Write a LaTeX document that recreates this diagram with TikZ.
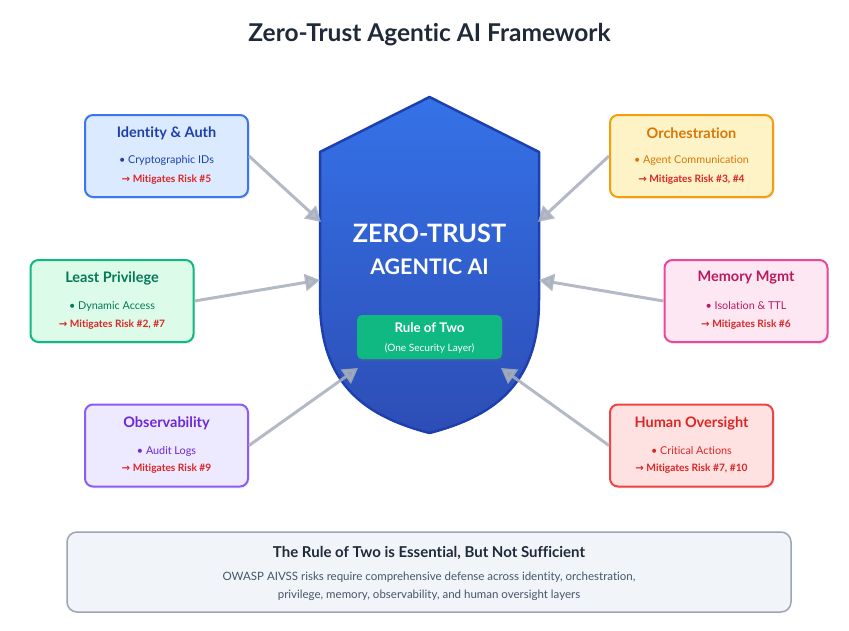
\documentclass[tikz,border=0pt]{standalone}
\usepackage{fontspec}
\setmainfont{Lato}[Ligatures=NoCommon]
\newfontfamily\arrowfont{DejaVu Sans}
\usetikzlibrary{arrows.meta,shadows}

\definecolor{inkdark}{HTML}{1F2937}
\definecolor{riskred}{HTML}{DC2626}
\definecolor{linkgray}{HTML}{A7AFBC}
\definecolor{shieldtop}{HTML}{3572E8}
\definecolor{shieldbot}{HTML}{2D4DB5}
\definecolor{shieldrim}{HTML}{1E40AF}
\definecolor{ruleteal}{HTML}{10B981}
\definecolor{idfill}{HTML}{DBEAFE}
\definecolor{iddraw}{HTML}{3B76EE}
\definecolor{idtext}{HTML}{1E40AF}
\definecolor{privfill}{HTML}{DCFCE9}
\definecolor{privdraw}{HTML}{10B981}
\definecolor{privtext}{HTML}{047857}
\definecolor{obsfill}{HTML}{EDE9FE}
\definecolor{obsdraw}{HTML}{8B5CF6}
\definecolor{obstext}{HTML}{6D28D9}
\definecolor{orchfill}{HTML}{FEF3C7}
\definecolor{orchdraw}{HTML}{F59E0B}
\definecolor{orchtext}{HTML}{D97706}
\definecolor{memfill}{HTML}{FCE7F3}
\definecolor{memdraw}{HTML}{EC4899}
\definecolor{memtext}{HTML}{BE185D}
\definecolor{humfill}{HTML}{FEE2E2}
\definecolor{humdraw}{HTML}{EF4444}
\definecolor{humtext}{HTML}{DC2626}
\definecolor{notefill}{HTML}{F1F5F9}
\definecolor{notedraw}{HTML}{9AA5B5}
\definecolor{notetext}{HTML}{475569}

\begin{document}
\begin{tikzpicture}[
  x=1pt, y=-1pt,
  every node/.style={inner sep=0pt},
  card/.style={draw, line width=2pt, rounded corners=8pt,
    minimum width=163pt, minimum height=82pt,
    drop shadow={opacity=0.12, shadow xshift=1.5pt, shadow yshift=-2pt}},
  ttl/.style={font=\bfseries\fontsize{14.5}{17}\selectfont},
  itm/.style={font=\fontsize{10.8}{13}\selectfont},
  risk/.style={font=\bfseries\fontsize{10.2}{12}\selectfont, text=riskred},
  link/.style={-{Triangle[length=15pt,width=17pt]}, line width=3pt,
    draw=linkgray, fill=linkgray, opacity=0.85}
]
  \useasboundingbox (0,0) rectangle (849,630);

  \node[font=\bfseries\fontsize{24.5}{28}\selectfont, text=inkdark] (head) at (429.5,35) {Zero-Trust Agentic AI Framework};

  \shade[top color=shieldtop, bottom color=shieldbot, draw=shieldrim, line width=2.5pt, line join=round]
    (429.5,97) -- (539,152) -- (539,300)
    .. controls (539,380) and (499,415) .. (429.5,433)
    .. controls (360,415) and (320,380) .. (320,300)
    -- (320,152) -- cycle;
  \node[font=\bfseries\fontsize{25.3}{29}\selectfont, text=white] (core) at (429.5,233) {ZERO-TRUST};
  \node[font=\bfseries\fontsize{21.4}{25}\selectfont, text=white] (core2) at (429.5,267) {AGENTIC AI};
  \node[fill=ruleteal, rounded corners=5pt, minimum width=145pt, minimum height=44pt,
    drop shadow={opacity=0.15, shadow xshift=1pt, shadow yshift=-2pt}] (rule) at (429.5,337) {};
  \node[font=\bfseries\fontsize{13.3}{15}\selectfont, text=white] (ruleA) at (429.5,328) {Rule of Two};
  \node[font=\fontsize{10.1}{12}\selectfont, text=white] (ruleB) at (429.5,348) {(One Security Layer)};

  \coordinate (tipid) at (321,222);
  \coordinate (tippriv) at (320,280);
  \coordinate (tipobs) at (358,368);
  \coordinate (tiporch) at (538,222);
  \coordinate (tipmem) at (539,280);
  \coordinate (tiphum) at (501,368);

  \node[card, fill=idfill, draw=iddraw] (id) at (166.5,156) {};
  \node[ttl, text=idtext] at (166.5,133) {Identity \& Auth};
  \node[itm, text=idtext] at (166.5,161) {• Cryptographic IDs};
  \node[risk] at (166.5,180) {{\arrowfont →} Mitigates Risk \#5};

  \node[card, fill=privfill, draw=privdraw] (priv) at (112,301) {};
  \node[ttl, text=privtext] at (112,278) {Least Privilege};
  \node[itm, text=privtext] at (112,306) {• Dynamic Access};
  \node[risk] at (112,325) {{\arrowfont →} Mitigates Risk \#2, \#7};

  \node[card, fill=obsfill, draw=obsdraw] (obs) at (166.5,445.5) {};
  \node[ttl, text=obstext] at (166.5,423) {Observability};
  \node[itm, text=obstext] at (166.5,451) {• Audit Logs};
  \node[risk] at (166.5,469) {{\arrowfont →} Mitigates Risk \#9};

  \node[card, fill=orchfill, draw=orchdraw] (orch) at (691.5,156) {};
  \node[ttl, text=orchtext] at (691.5,133) {Orchestration};
  \node[itm, text=orchtext] at (691.5,161) {• Agent Communication};
  \node[risk] at (691.5,180) {{\arrowfont →} Mitigates Risk \#3, \#4};

  \node[card, fill=memfill, draw=memdraw] (mem) at (746,301) {};
  \node[ttl, text=memtext] at (746,278) {Memory Mgmt};
  \node[itm, text=memtext] at (746,306) {• Isolation \& TTL};
  \node[risk] at (746,325) {{\arrowfont →} Mitigates Risk \#6};

  \node[card, fill=humfill, draw=humdraw] (hum) at (691.5,445.5) {};
  \node[ttl, text=humtext] at (691.5,423) {Human Oversight};
  \node[itm, text=humtext] at (691.5,451) {• Critical Actions};
  \node[risk] at (691.5,469) {{\arrowfont →} Mitigates Risk \#7, \#10};

  \draw[link] (id.east) -- (tipid);
  \draw[link] (priv.east) -- (tippriv);
  \draw[link] (obs.east) -- (tipobs);
  \draw[link] (orch.west) -- (tiporch);
  \draw[link] (mem.west) -- (tipmem);
  \draw[link] (hum.west) -- (tiphum);

  \node[fill=notefill, draw=notedraw, line width=1.5pt, rounded corners=10pt,
    minimum width=724pt, minimum height=80pt] (note) at (429,572) {};
  \node[font=\bfseries\fontsize{15}{18}\selectfont, text=inkdark] (noteA) at (429,553) {The Rule of Two is Essential, But Not Sufficient};
  \node[font=\fontsize{11.5}{14}\selectfont, text=notetext] (noteB) at (429,577) {OWASP AIVSS risks require comprehensive defense across identity, orchestration,};
  \node[font=\fontsize{11.5}{14}\selectfont, text=notetext] (noteC) at (429,595) {privilege, memory, observability, and human oversight layers};
\end{tikzpicture}
\end{document}
